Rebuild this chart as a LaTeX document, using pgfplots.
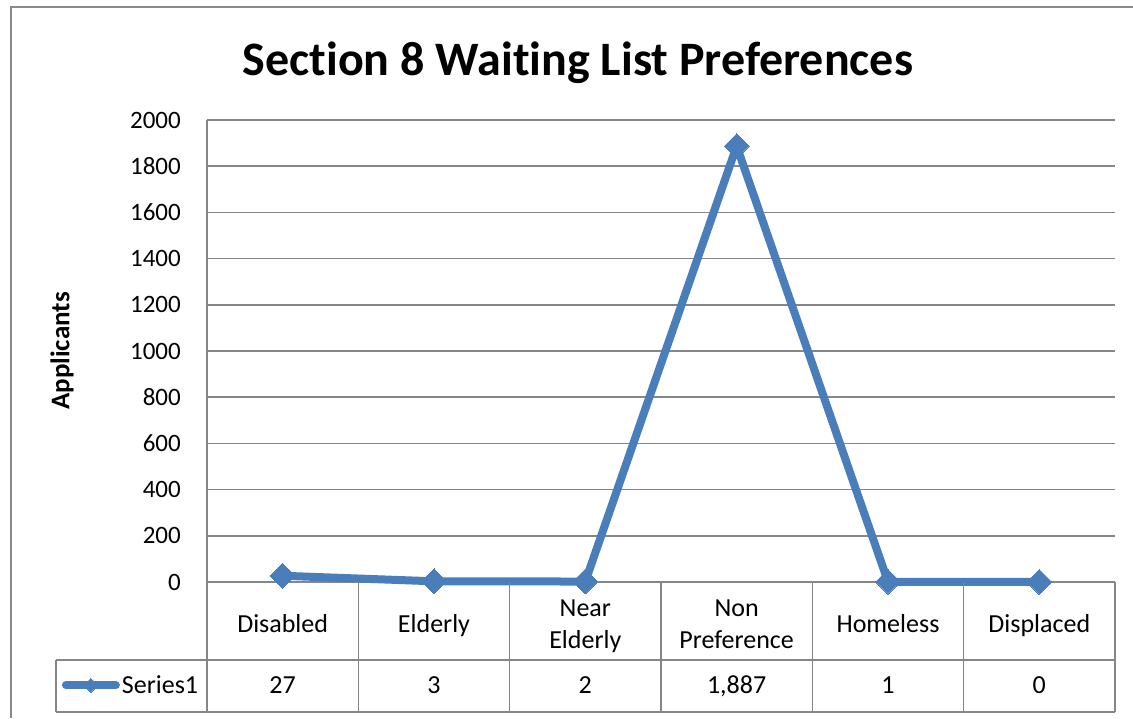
\documentclass[border=0pt]{standalone}
\usepackage{fontspec}
\setmainfont{Carlito}[Ligatures={NoCommon}]
\usepackage{pgfplots}
\pgfplotsset{compat=1.18}
\definecolor{serblue}{RGB}{74,126,187}
\definecolor{gridgray}{RGB}{134,134,134}
\definecolor{framegray}{RGB}{137,137,137}
\begin{document}
\begin{tikzpicture}[x=1pt,y=1pt]
\path[use as bounding box] (0,0) rectangle (1133,718);
% outer frame
\draw[framegray, line width=2pt] (11,0) -- (11,711) -- (1133,711);
% title
\node[font=\fontsize{48}{56}\selectfont\bfseries, anchor=base, inner sep=0pt] at (578,642) {Section 8 Waiting List Preferences};
% y label
\node[rotate=90, font=\fontsize{27}{32}\selectfont\bfseries] at (62,367) {Applicants};
\begin{axis}[
  at={(207pt,136pt)}, anchor=south west,
  width=908pt, height=462pt, scale only axis,
  xmin=0, xmax=6, ymin=0, ymax=2000,
  axis x line*=bottom, axis y line*=left,
  axis line style={gridgray, line width=1.5pt},
  ytick={0,200,...,2000},
  ymajorgrids, grid style={gridgray, line width=1.5pt},
  major tick length=0pt,
  xtick={0.5,1.5,2.5,3.5,4.5,5.5},
  xticklabels={\strut Disabled,\strut Elderly,\strut Near\\\strut Elderly,\strut Non\\\strut Preference,\strut Homeless,\strut Displaced},
  xticklabel style={anchor=center, yshift=-43.6pt, align=center, inner sep=0pt, font=\fontsize{26}{32}\selectfont},
  yticklabel style={anchor=east, inner sep=0pt, xshift=-26pt, font=\fontsize{25}{30}\selectfont},
  /pgf/number format/assume math mode=true,
  /pgf/number format/1000 sep={},
  clip=false,
  legend style={at={(-0.160,-0.2235)}, anchor=west, draw=none, fill=none,
    font=\fontsize{26}{32}\selectfont, inner sep=0pt, nodes={inner sep=2pt}},
  legend image code/.code={
    \draw[serblue, line width=8pt, line cap=round] (0pt,0pt) -- (50pt,0pt);
    \draw[mark=square*, mark size=5pt,
      mark options={rotate=45, fill=serblue, draw=none, line width=0pt, solid}]
      plot coordinates {(25pt,0pt)};
  },
]
\addplot[serblue, line width=8pt, mark=square*, mark size=8.8pt,
  mark options={rotate=45, fill=serblue, draw=none, line width=0pt, solid}]
  coordinates {(0.5,27) (1.5,3) (2.5,2) (3.5,1887) (4.5,1) (5.5,0)};
\legend{Series1}
\node[font=\fontsize{26}{32}\selectfont, inner sep=0pt, yshift=-104.6pt] at (axis cs:0.5,0) {\strut 27};
\node[font=\fontsize{26}{32}\selectfont, inner sep=0pt, yshift=-104.6pt] at (axis cs:1.5,0) {\strut 3};
\node[font=\fontsize{26}{32}\selectfont, inner sep=0pt, yshift=-104.6pt] at (axis cs:2.5,0) {\strut 2};
\node[font=\fontsize{26}{32}\selectfont, inner sep=0pt, yshift=-104.6pt] at (axis cs:3.5,0) {\strut 1,887};
\node[font=\fontsize{26}{32}\selectfont, inner sep=0pt, yshift=-104.6pt] at (axis cs:4.5,0) {\strut 1};
\node[font=\fontsize{26}{32}\selectfont, inner sep=0pt, yshift=-104.6pt] at (axis cs:5.5,0) {\strut 0};
\end{axis}
% data table lines
\begin{scope}[gridgray, line width=1.5pt]
\foreach \xx in {207,358.33,509.67,661,812.33,963.67,1115} {
  \draw (\xx,136) -- (\xx,6);
}
\draw (56,58) -- (1115,58);
\draw (56,6) -- (1115,6);
\draw (56,58) -- (56,6);
\end{scope}
\end{tikzpicture}
\end{document}
